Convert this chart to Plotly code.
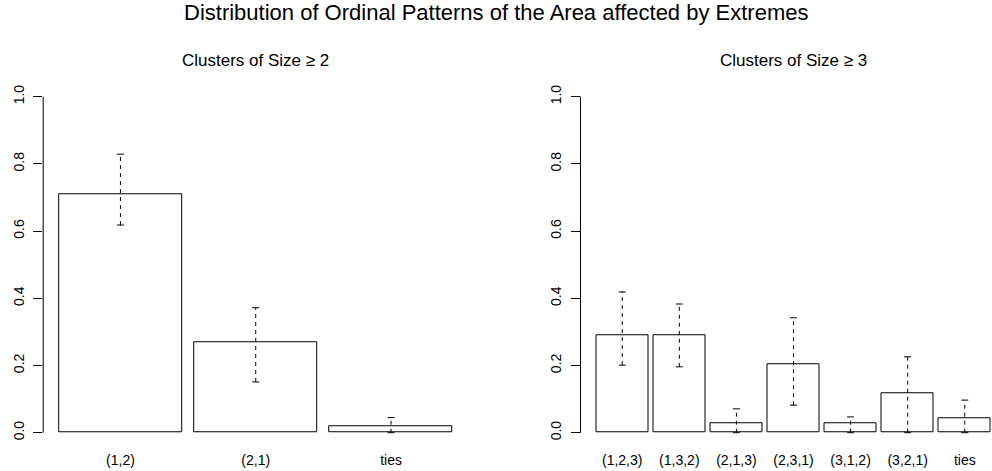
import plotly.graph_objects as go

W, H = 992, 471

# ---- data ----
left_cats = ["(1,2)", "(2,1)", "ties"]
left_vals = [0.711, 0.270, 0.018]
left_lo = [0.618, 0.151, 0.0]
left_hi = [0.829, 0.372, 0.045]

right_cats = ["(1,2,3)", "(1,3,2)", "(2,1,3)", "(2,3,1)", "(3,1,2)", "(3,2,1)", "ties"]
right_vals = [0.290, 0.290, 0.028, 0.204, 0.028, 0.116, 0.043]
right_lo = [0.201, 0.196, 0.0, 0.082, 0.0, 0.0, 0.0]
right_hi = [0.419, 0.383, 0.071, 0.342, 0.047, 0.226, 0.097]

main_title = "Distribution of Ordinal Patterns of the Area affected by Extremes"
left_title = "Clusters of Size \u2265 2"
right_title = "Clusters of Size \u2265 3"
y_ticks = [0.0, 0.2, 0.4, 0.6, 0.8, 1.0]

FONT = "Liberation Sans, Arial, Helvetica, sans-serif"
SPACE = 0.1
BW = 1.0


def centers(n):
    return [SPACE + BW / 2 + i * (BW + SPACE) for i in range(n)]


def xlim(n):
    wl = SPACE
    wr = n * (BW + SPACE)
    ext = 0.04 * (wr - wl)
    return wl - ext, wr + ext


fig = go.Figure()

# panel geometry (pixels)
left_px0 = 43.2
left_unit = 123.0
right_px0 = 580.5
right_unit = 51.9
y0_px, y1_px = 432.7, 96.7  # pixel of y=0 and y=1
ppu = y0_px - y1_px
ybot_px = y0_px + 0.04 * ppu
ytop_px = y1_px - 0.04 * ppu


def add_panel(cats, vals, lo, hi, xa, ya, unit):
    xs = centers(len(cats))
    fig.add_trace(go.Bar(
        x=xs, y=vals, width=BW, xaxis=xa, yaxis=ya,
        marker=dict(color="white", line=dict(color="black", width=1)),
        showlegend=False, hoverinfo="skip",
    ))
    # dashed whiskers
    ex, ey = [], []
    for c, l, h in zip(xs, lo, hi):
        ex += [c, c, None]
        ey += [l, h, None]
    fig.add_trace(go.Scatter(
        x=ex, y=ey, mode="lines", xaxis=xa, yaxis=ya,
        line=dict(color="black", width=1, dash="4px,4px"),
        showlegend=False, hoverinfo="skip",
    ))
    # caps
    hw = 3.5 / unit
    cx, cy = [], []
    for c, l, h in zip(xs, lo, hi):
        cx += [c - hw, c + hw, None, c - hw, c + hw, None]
        cy += [h, h, None, l, l, None]
    fig.add_trace(go.Scatter(
        x=cx, y=cy, mode="lines", xaxis=xa, yaxis=ya,
        line=dict(color="black", width=1),
        showlegend=False, hoverinfo="skip",
    ))
    return xs


lxs = add_panel(left_cats, left_vals, left_lo, left_hi, "x", "y", left_unit)
rxs = add_panel(right_cats, right_vals, right_lo, right_hi, "x2", "y2", right_unit)

lx0, lx1 = xlim(len(left_cats))
rx0, rx1 = xlim(len(right_cats))
left_px1 = left_px0 + (lx1 - lx0) * left_unit
right_px1_full = right_px0 + (rx1 - rx0) * right_unit
# right panel is cut at the image edge
rx1_cut = rx0 + (W - right_px0) / right_unit

ydom = [1 - ybot_px / H, 1 - ytop_px / H]

yaxis_common = dict(
    range=[-0.04, 1.04], domain=ydom, tickvals=y_ticks, tickformat=".1f",
    ticks="outside", ticklen=9, tickwidth=1, tickcolor="black",
    tickangle=-90, showgrid=False, zeroline=False, showline=False,
    tickfont=dict(family=FONT, size=14, color="black"),
    ticklabelstandoff=4, fixedrange=True,
)
xaxis_common = dict(
    showgrid=False, zeroline=False, showline=False, ticks="",
    tickfont=dict(family=FONT, size=14, color="black"),
    ticklabelstandoff=4, fixedrange=True,
)

fig.update_layout(
    width=W, height=H, margin=dict(l=0, r=0, t=0, b=0),
    paper_bgcolor="white", plot_bgcolor="white",
    xaxis=dict(domain=[left_px0 / W, left_px1 / W], range=[lx0, lx1],
               tickvals=lxs, ticktext=left_cats, anchor="y", **xaxis_common),
    yaxis=dict(anchor="x", **yaxis_common),
    xaxis2=dict(domain=[right_px0 / W, 1.0], range=[rx0, rx1_cut],
                tickvals=rxs, ticktext=right_cats, anchor="y2", **xaxis_common),
    yaxis2=dict(anchor="x2", **yaxis_common),
    bargap=0,
)

# y axis lines from 0 to 1 only (R style)
for xr, yr in (("x domain", "y"), ("x2 domain", "y2")):
    fig.add_shape(type="line", xref=xr, yref=yr, x0=0, x1=0,
                  y0=y_ticks[0], y1=y_ticks[-1],
                  line=dict(color="black", width=1))

# titles
fig.add_annotation(text=main_title, xref="paper", yref="paper",
                   x=0.5, y=1 - 12.5 / H, xanchor="center", yanchor="middle",
                   showarrow=False, font=dict(family=FONT, size=22, color="black"))
fig.add_annotation(text=left_title, xref="paper", yref="paper",
                   x=(left_px0 + left_px1) / 2 / W, y=1 - 60.5 / H,
                   xanchor="center", yanchor="middle", showarrow=False,
                   font=dict(family=FONT, size=17, color="black"))
fig.add_annotation(text=right_title, xref="paper", yref="paper",
                   x=(right_px0 + right_px1_full) / 2 / W, y=1 - 60.5 / H,
                   xanchor="center", yanchor="middle", showarrow=False,
                   font=dict(family=FONT, size=17, color="black"))

fig.write_html("out.html")
